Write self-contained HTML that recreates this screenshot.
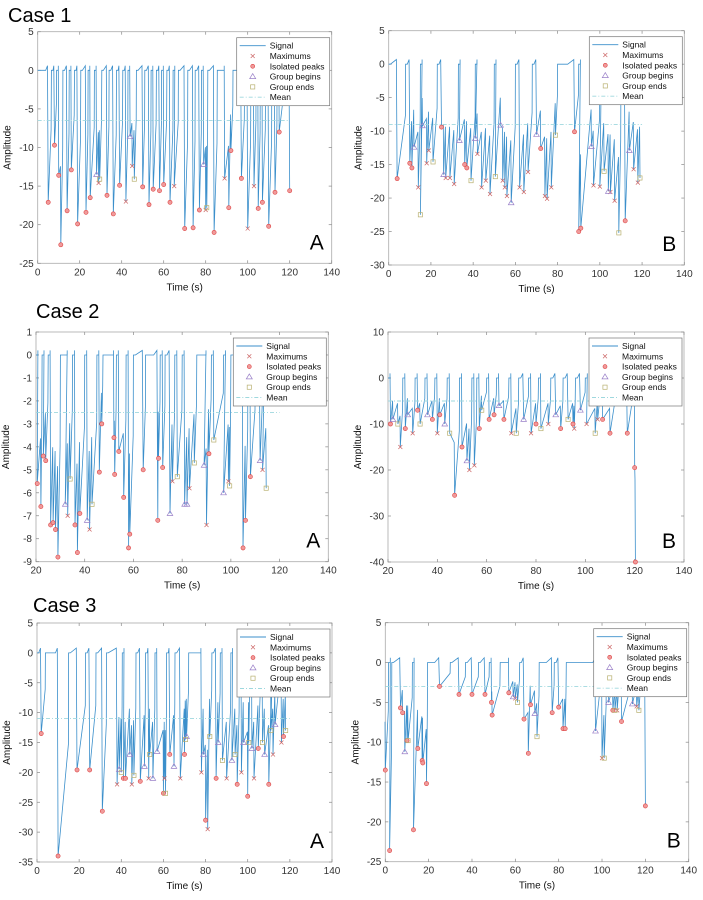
<!DOCTYPE html>
<html><head><meta charset="utf-8"><style>
body{margin:0;background:#fff;}
svg{display:block;font-family:"Liberation Sans",Arial,sans-serif;}
</style></head><body>
<svg id="fig" width="703" height="900" viewBox="0 0 703 900"></svg>
<script>
// ---------- DATA ----------
const p1aTops=[0,3,6.5,9,12,15,17.5,20.5,24,27,30.5,34,37.5,40.5,43,47,51,54,56.5,59,61.5,64.5,67,71.5,75,78,81,85.5,88,93,95,98.5,101.5,104,106,108.5,111.5,114,117];
const p1aPeaks=[[5,-17.1],[8,-9.7],[10,-13.6],[11,-22.6],[14,-18.2],[16,-12.9],[19,-19.9],[23,-18.4],[25,-16.5],[33,-16.2],[36,-18.6],[39,-14.9],[50,-15.1],[53,-17.4],[55,-15.4],[58,-15.6],[60,-14.8],[63,-17.1],[70,-20.5],[74,-20.4],[77,-18.1],[84,-21],[91,-17.8],[92,-10.4],[97,-14],[105,-17.9],[107,-17.1],[110,-20.2],[113,-15.8],[115,-8],[120,-15.6]];
const p1aMax=[[29,-14.6],[45,-12.4],[80,-18.1],[42,-17],[65,-15],[100,-20.5],[89,-14],[103,-15]];
const p1aBeg=[[28,-13.5],[44,-8.6],[79,-12.2]];
const p1aEnd=[[29.5,-14.1],[46,-14.1],[80.5,-17.8]];
const p1aMean=-6.5;

const p1bTops=[0,8,15,23,33,41,50,60,68,80,84,90,100,110];
const p1bPeaks=[[4,-17.1],[10,-14.8],[11,-15.5],[25,-9.4],[36,-15],[37,-15.5],[72,-12.6],[88,-10.1],[90,-25],[91,-24.5],[112,-23.4]];
const p1bMax=[[14,-18.4],[18,-14.8],[19,-12.9],[27,-17],[29,-17],[31,-17.9],[42,-13.4],[44,-18.4],[46,-17.4],[48,-19.4],[54,-17.4],[55,-18.4],[56,-19.7],[62,-18.4],[64,-19.1],[66,-16.1],[74,-19.7],[75,-20.1],[77,-18.4],[97,-18.1],[100,-18.3],[105,-19.1],[107,-20.4],[116,-15.7],[118,-17.7]];
const p1bBeg=[[12,-12.4],[16,-9.2],[26,-16.5],[33.5,-11.4],[41,-11.1],[53,-9.1],[58,-20.7],[70,-10.5],[96,-12.3],[104,-19],[114,-12.9]];
const p1bEnd=[[15,-22.5],[21,-14.6],[39,-17.4],[50.5,-16.8],[79,-10.6],[102,-16],[109,-25.2],[119,-17]];
const p1bMean=-9;

const p2aTops=[20,22.5,25,30,32,35,40,45,47.5,51,53,57,60,65,67.5,71,73,77,80,86,89,92,97,100,107,110,113];
const p2aPeaks=[[20.5,-5.6],[22,-6.6],[23,-4.4],[24,-4.6],[26,-7.4],[27,-7.3],[28,-7.6],[29,-8.8],[36,-7.4],[37,-8.6],[38,-6.9],[46,-5.1],[47,-3],[52,-3.6],[52.3,-5.2],[54,-4.2],[56,-6.2],[58,-8.4],[58.5,-7.8],[64,-5],[70,-7.2],[70.3,-4.5],[72,-4.9],[91,-4.3],[105,-8.4],[106,-7.2],[108,-5.3]];
const p2aMax=[[33,-7],[42,-7.6],[76,-5.5],[83,-5.8],[90,-7.4],[113,-5],[99,-5.5]];
const p2aBeg=[[32,-6.5],[41,-7.2],[75,-6.9],[81,-6.5],[82,-6.5],[89,-4.8],[97,-6],[112,-4.6]];
const p2aEnd=[[34,-5.4],[43,-6.5],[78,-5.3],[85,-4.7],[93,-3.7],[99.5,-5.7],[114.5,-5.8]];
const p2aMean=-2.5;

const p2bTops=[20,26,31,35,39,44,49,54,56,60,64,69,73,77,81,86,91,96,100,106,112,119];
const p2bPeaks=[[21,-10],[27,-11],[32,-7],[38,-9],[41,-8],[47,-25.5],[50,-15],[57,-11],[61,-9],[63,-8],[67,-9],[80,-10],[90,-11],[95,-10],[107,-9],[110,-12],[117,-12],[120,-19.5],[120.3,-40]];
const p2bMax=[[25,-15],[30,-12],[40,-12],[53,-20],[55,-19],[70,-12],[78,-12],[85,-10],[95.5,-11],[100.5,-10],[105,-9]];
const p2bBeg=[[22,-9],[28,-8],[36,-8],[43,-10],[52,-18],[65,-6],[75,-9],[88,-8],[98,-7]];
const p2bEnd=[[24,-10],[33,-10],[45,-12],[58,-7],[72,-12],[82,-11],[93,-9],[104,-12]];
const p2bMean=-5;

const p3aTops=[0,4,8,15,23,28,33,40.5,47,51.5,56,61.5,65.5,72,77,83,87,92,96,101,106,111,115];
const p3aPeaks=[[2,-13.5],[10,-34],[19,-19.6],[25,-19.6],[31,-26.5],[41,-21],[42,-21],[49,-21.5],[60,-23.5],[63,-17],[70,-17],[80,-28],[85,-21],[95,-22],[100,-24],[105,-16],[110,-22],[117,-14]];
const p3aMax=[[38,-22],[45,-22],[53,-21],[60.5,-21],[68,-21],[78,-20],[81,-29.5],[90,-21],[97,-20],[103,-21],[112,-17],[116,-15]];
const p3aBeg=[[39,-19.5],[44,-17],[51,-19],[55,-21],[57,-16.5],[65,-19],[71,-14],[79,-17],[86,-15],[92.5,-18],[98,-15],[102,-16],[108,-17],[113,-12]];
const p3aEnd=[[40,-20],[46,-20.5],[53.5,-17],[61,-23.5],[70.5,-14.5],[82,-14],[88,-18],[94,-17],[100.5,-15],[107,-15],[111,-13],[118,-13]];
const p3aMean=-11;

const p3bTops=[1.5,3,12.5,19.5,22,30,37,43,48,53,56,62,71,73.5,78,83.5,95,99,102,108,113,118];
const p3bPeaks=[[0,-13.5],[2,-23.6],[7,-5.7],[8,-6.3],[10,-9.8],[13,-21],[15,-10.8],[17,-12.3],[17.3,-12.6],[19,-15.2],[25,-3],[34,-4],[40,-4],[46,-4],[49,-5],[49.3,-6.6],[57,-3.8],[64,-7.1],[66,-11.4],[67,-5.3],[77,-6.3],[80,-5.6],[82,-8.3],[83,-8.3],[105,-6],[109,-7.4],[120,-18]];
const p3bMax=[[60,-4.5],[100,-12],[107,-6],[116,-5.5]];
const p3bBeg=[[9,-11.2],[59,-4.3],[69,-6.4],[97,-8.6],[103,-5],[114,-5.2]];
const p3bEnd=[[10.5,-9.8],[61,-5],[70,-9.3],[101,-12],[106,-6],[117,-6]];
const p3bMean=-3;

// ---------- DRAW ----------
const svg=document.getElementById('fig');
const NS='http://www.w3.org/2000/svg';
function mk(tag,attrs,parent){const e=document.createElementNS(NS,tag);for(const k in attrs)e.setAttribute(k,attrs[k]);(parent||svg).appendChild(e);return e;}

function panel(id,g,d){
  const grp=mk('g',{});
  
  
  const sx=t=>g.x0+(t-g.xmin)/(g.xmax-g.xmin)*(g.x1-g.x0);
  const sy=v=>g.y0+(g.ymax-v)/(g.ymax-g.ymin)*(g.y1-g.y0);
  const frame=mk('rect',{x:g.x0,y:g.y0,width:g.x1-g.x0,height:g.y1-g.y0,fill:'#fff',stroke:'#aaa','stroke-width':0.8},grp);
  
  
  for(let t=g.xmin;t<=g.xmax+1e-9;t+=20){
    const X=sx(t);
    mk('line',{x1:X,x2:X,y1:g.y1,y2:g.y1-3,stroke:'#888','stroke-width':0.7},grp);
    mk('line',{x1:X,x2:X,y1:g.y0,y2:g.y0+3,stroke:'#888','stroke-width':0.7},grp);
    const tx=mk('text',{x:X,y:g.y1+12,'font-size':10,'text-anchor':'middle',fill:'#333'},grp);
    tx.textContent=t;
    
    
  }
  for(let v=g.ymin;v<=g.ymax+1e-9;v+=g.ystep){
    const Y=sy(v);
    mk('line',{x1:g.x0,x2:g.x0+3,y1:Y,y2:Y,stroke:'#888','stroke-width':0.7},grp);
    mk('line',{x1:g.x1,x2:g.x1-3,y1:Y,y2:Y,stroke:'#888','stroke-width':0.7},grp);
    const ty=mk('text',{x:g.x0-4,y:Y+3.5,'font-size':10,'text-anchor':'end',fill:'#333'},grp);
    ty.textContent=v;
    
    
  }
  const xl=mk('text',{x:(g.x0+g.x1)/2,y:g.y1+27,'font-size':10,'text-anchor':'middle',fill:'#111'},grp);
  xl.textContent='Time (s)';
  
  
  const yx=g.x0-27, yy=(g.y0+g.y1)/2;
  const yl=mk('text',{x:yx,y:yy,'font-size':10,'text-anchor':'middle',fill:'#111',transform:`rotate(-90 ${yx} ${yy})`},grp);
  yl.textContent='Amplitude';
  
  

  // signal
  const ev=[];
  d.tops.forEach(t=>ev.push({t:t,top:true}));
  [d.peaks,d.max,d.beg,d.end].forEach(a=>a.forEach(p=>ev.push({t:p[0],v:p[1]})));
  ev.sort((a,b)=>a.t-b.t);
  let pts=[];let prevTop=false;let lastV=0;
  ev.forEach(e=>{
    if(e.top){
      if(!prevTop && pts.length) pts.push([e.t-0.1,lastV*0.45]);
      pts.push([e.t,0]);pts.push([e.t+0.8,0]);prevTop=true;lastV=0;
    } else {
      if(prevTop) pts.push([Math.max(e.t-0.35,pts[pts.length-1][0]),0.02*(g.ymax-g.ymin)]);
      else pts.push([e.t-0.15,e.v*0.55]);
      pts.push([e.t,e.v]);prevTop=false;lastV=e.v;
    }
  });
  const sig=mk('polyline',{points:pts.map(p=>sx(p[0]).toFixed(1)+','+sy(p[1]).toFixed(1)).join(' '),fill:'none',stroke:'#3b8fcb','stroke-width':0.8},grp);
  
  
  // mean
  const ml=mk('line',{x1:sx(g.xmin),x2:sx(120),y1:sy(d.mean),y2:sy(d.mean),stroke:'#9ed8de','stroke-width':0.9,'stroke-dasharray':'4 2 1 2'},grp);
  
  
  // markers
  d.max.forEach(p=>{
    const X=sx(p[0]),Y=sy(p[1]);
    const m=mk('path',{d:`M${X-2},${Y-2}L${X+2},${Y+2}M${X-2},${Y+2}L${X+2},${Y-2}`,stroke:'#c66','stroke-width':0.7},grp);
    
    
  });
  d.peaks.forEach(p=>{
    const m=mk('circle',{cx:sx(p[0]),cy:sy(p[1]),r:2.1,fill:'#f09a9a',stroke:'#d44','stroke-width':0.6},grp);
    
    
  });
  d.beg.forEach(p=>{
    const X=sx(p[0]),Y=sy(p[1]);
    const m=mk('path',{d:`M${X},${Y-2.8}L${X+2.8},${Y+2}L${X-2.8},${Y+2}Z`,fill:'none',stroke:'#9a80c8','stroke-width':0.7},grp);
    
    
  });
  d.end.forEach(p=>{
    const m=mk('rect',{x:sx(p[0])-2.1,y:sy(p[1])-2.1,width:4.2,height:4.2,fill:'none',stroke:'#b8b070','stroke-width':0.7},grp);
    
    
  });
  // legend
  const lx=g.x1-95, ly=g.y0+6, lw=93, lh=68;
  const lg=mk('g',{},grp);
  
  
  mk('rect',{x:lx,y:ly,width:lw,height:lh,fill:'#fff',stroke:'#777','stroke-width':0.7},lg);
  const labels=['Signal','Maximums','Isolated peaks','Group begins','Group ends','Mean'];
  labels.forEach((s,i)=>{
    const Y=ly+8+i*10.3, cx=lx+16;
    if(i===0) mk('line',{x1:lx+3,x2:lx+29,y1:Y,y2:Y,stroke:'#3b8fcb','stroke-width':0.9},lg);
    if(i===1) mk('path',{d:`M${cx-2},${Y-2}L${cx+2},${Y+2}M${cx-2},${Y+2}L${cx+2},${Y-2}`,stroke:'#c66','stroke-width':0.7},lg);
    if(i===2) mk('circle',{cx:cx,cy:Y,r:2,fill:'#f09a9a',stroke:'#d44','stroke-width':0.6},lg);
    if(i===3) mk('path',{d:`M${cx},${Y-3}L${cx+3},${Y+2}L${cx-3},${Y+2}Z`,fill:'none',stroke:'#9a80c8','stroke-width':0.7},lg);
    if(i===4) mk('rect',{x:cx-2.1,y:Y-2.1,width:4.2,height:4.2,fill:'none',stroke:'#b8b070','stroke-width':0.7},lg);
    if(i===5) mk('line',{x1:lx+3,x2:lx+29,y1:Y,y2:Y,stroke:'#9ed8de','stroke-width':0.9,'stroke-dasharray':'4 2 1 2'},lg);
    const t=mk('text',{x:lx+33,y:Y+3,'font-size':8.5,fill:'#111'},lg);
    t.textContent=s;
    
    
  });
  const L=mk('text',{x:g.x1-22,y:g.y1-14,'font-size':21,fill:'#000'},grp);
  L.textContent=g.letter;
  
  
}

panel('case1-a',{x0:37.7,x1:331.7,y0:31.7,y1:263.3,xmin:0,xmax:140,ymin:-25,ymax:5,ystep:5,letter:'A'},{tops:p1aTops,peaks:p1aPeaks,max:p1aMax,beg:p1aBeg,end:p1aEnd,mean:p1aMean});
panel('case1-b',{x0:388.7,x1:684.3,y0:30.7,y1:265,xmin:0,xmax:140,ymin:-30,ymax:5,ystep:5,letter:'B'},{tops:p1bTops,peaks:p1bPeaks,max:p1bMax,beg:p1bBeg,end:p1bEnd,mean:p1bMean});
panel('case2-a',{x0:36,x1:328.3,y0:332,y1:561.7,xmin:20,xmax:140,ymin:-9,ymax:1,ystep:1,letter:'A'},{tops:p2aTops,peaks:p2aPeaks,max:p2aMax,beg:p2aBeg,end:p2aEnd,mean:p2aMean});
panel('case2-b',{x0:388,x1:684,y0:332,y1:562,xmin:20,xmax:140,ymin:-40,ymax:10,ystep:10,letter:'B'},{tops:p2bTops,peaks:p2bPeaks,max:p2bMax,beg:p2bBeg,end:p2bEnd,mean:p2bMean});
panel('case3-a',{x0:37,x1:332,y0:623,y1:862,xmin:0,xmax:140,ymin:-35,ymax:5,ystep:5,letter:'A'},{tops:p3aTops,peaks:p3aPeaks,max:p3aMax,beg:p3aBeg,end:p3aEnd,mean:p3aMean});
panel('case3-b',{x0:385.3,x1:688.7,y0:622.7,y1:861.7,xmin:0,xmax:140,ymin:-25,ymax:5,ystep:5,letter:'B'},{tops:p3bTops,peaks:p3bPeaks,max:p3bMax,beg:p3bBeg,end:p3bEnd,mean:p3bMean});

[['Case 1',8,22],['Case 2',36,318],['Case 3',33,612]].forEach(c=>{
  const t=mk('text',{x:c[1],y:c[2],'font-size':20,fill:'#000'});
  t.textContent=c[0];
  
  
});
</script>
</body></html>
